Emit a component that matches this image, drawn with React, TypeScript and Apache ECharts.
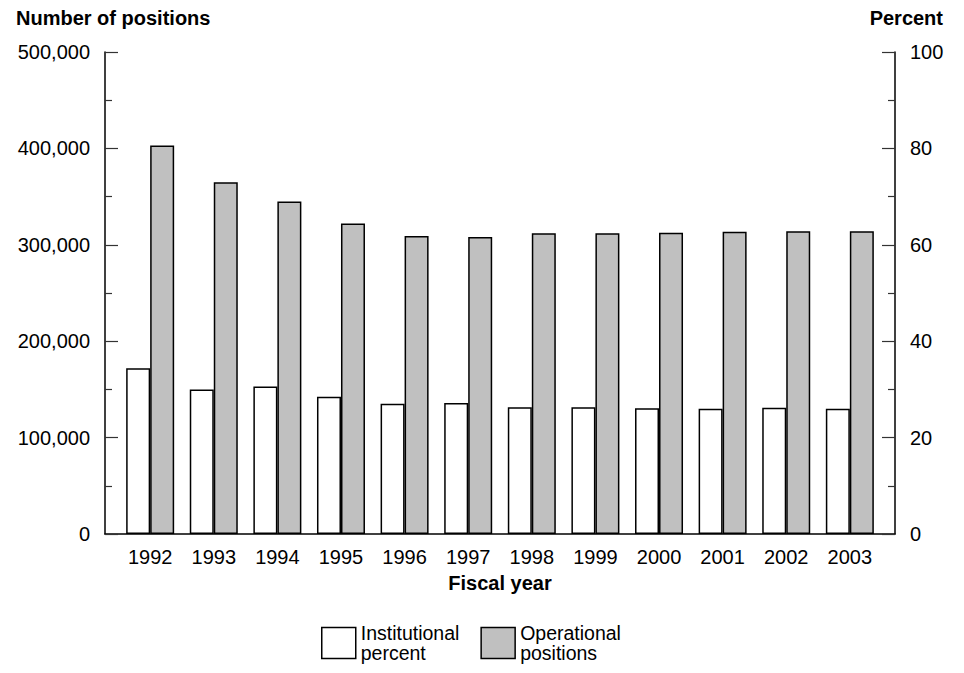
import React, { useEffect, useRef } from "react";
import * as echarts from "echarts";

const years = [1992, 1993, 1994, 1995, 1996, 1997, 1998, 1999, 2000, 2001, 2002, 2003];
const institutionalPercent = [34.4, 30.0, 30.6, 28.5, 27.0, 27.2, 26.3, 26.3, 26.1, 26.0, 26.2, 26.0];
const operationalPositions = [403000, 365000, 345000, 322000, 309000, 308000, 312000, 312000, 312500, 313500, 314000, 314000];
const leftTicks = [0, 100000, 200000, 300000, 400000, 500000];
const rightTicks = [0, 20, 40, 60, 80, 100];
const seriesNames = ["Institutional\npercent", "Operational\npositions"];

const FONT = "'Liberation Sans', Arial, Helvetica, sans-serif";

export default function App() {
  const ref = useRef<HTMLDivElement>(null);
  useEffect(() => {
    if (!ref.current) return;
    const chart = echarts.init(ref.current, undefined, { renderer: "svg" });
    const pad = 0.71;
    chart.setOption({
      animation: false,
      textStyle: { fontFamily: FONT, color: "#000" },
      title: [
        { text: "Number of positions", left: 16, top: 8, padding: 0, textStyle: { fontFamily: FONT, fontSize: 20, fontWeight: "bold", color: "#000" } },
        { text: "Percent", right: 21, top: 8, padding: 0, textStyle: { fontFamily: FONT, fontSize: 20, fontWeight: "bold", color: "#000" } },
      ],
      legend: {
        left: 321,
        top: 623,
        padding: 0,
        itemWidth: 34,
        itemHeight: 31,
        itemGap: 21,
        icon: "rect",
        data: seriesNames,
        textStyle: { fontFamily: FONT, fontSize: 19.5, lineHeight: 20, color: "#000" },
        itemStyle: { borderColor: "#000", borderWidth: 1.5 },
      },
      grid: { left: 105, right: 69, top: 52, bottom: 139, containLabel: false },
      xAxis: {
        type: "value",
        min: years[0] - pad,
        max: years[years.length - 1] + pad,
        splitLine: { show: false },
        axisTick: { show: false },
        axisLine: { show: true, lineStyle: { color: "#000", width: 1.5 } },
        axisLabel: {
          customValues: years,
          fontFamily: FONT,
          fontSize: 20,
          color: "#000",
          margin: 13,
          formatter: (v: number) => String(Math.round(v)),
        },
        name: "Fiscal year",
        nameLocation: "middle",
        nameGap: 39,
        nameTextStyle: { fontFamily: FONT, fontSize: 20, fontWeight: "bold", color: "#000" },
      },
      yAxis: [
        {
          type: "value",
          min: leftTicks[0],
          max: leftTicks[leftTicks.length - 1],
          interval: leftTicks[1] - leftTicks[0],
          position: "left",
          splitLine: { show: false },
          axisLine: { show: true, lineStyle: { color: "#000", width: 1.5 } },
          axisTick: { show: true, inside: true, length: 13, lineStyle: { color: "#333", width: 1.2 } },
          minorTick: { show: true, splitNumber: 2, length: 7, lineStyle: { color: "#333", width: 1.2 } },
          axisLabel: {
            fontFamily: FONT,
            fontSize: 20,
            color: "#000",
            margin: 15,
            formatter: (v: number) => v.toLocaleString("en-US"),
          },
        },
        {
          type: "value",
          min: rightTicks[0],
          max: rightTicks[rightTicks.length - 1],
          interval: rightTicks[1] - rightTicks[0],
          position: "right",
          splitLine: { show: false },
          axisLine: { show: true, lineStyle: { color: "#000", width: 1.5 } },
          axisTick: { show: true, inside: true, length: 13, lineStyle: { color: "#333", width: 1.2 } },
          minorTick: { show: true, splitNumber: 2, length: 7, lineStyle: { color: "#333", width: 1.2 } },
          axisLabel: { fontFamily: FONT, fontSize: 20, color: "#000", margin: 15 },
        },
      ],
      series: [
        {
          name: seriesNames[0],
          type: "bar",
          yAxisIndex: 1,
          barWidth: 24,
          barGap: "0%",
          data: years.map((y, i) => [y, institutionalPercent[i]]),
          itemStyle: { color: "#ffffff", borderColor: "#000", borderWidth: 1.5 },
        },
        {
          name: seriesNames[1],
          type: "bar",
          yAxisIndex: 0,
          barWidth: 24,
          barGap: "0%",
          data: years.map((y, i) => [y, operationalPositions[i]]),
          itemStyle: { color: "#c0c0c0", borderColor: "#000", borderWidth: 1.5 },
        },
      ],
    });
    return () => chart.dispose();
  }, []);
  return (
    <div
      ref={ref}
      style={{ position: "absolute", left: 0, top: 0, width: 964, height: 673, background: "#fff" }}
    />
  );
}
